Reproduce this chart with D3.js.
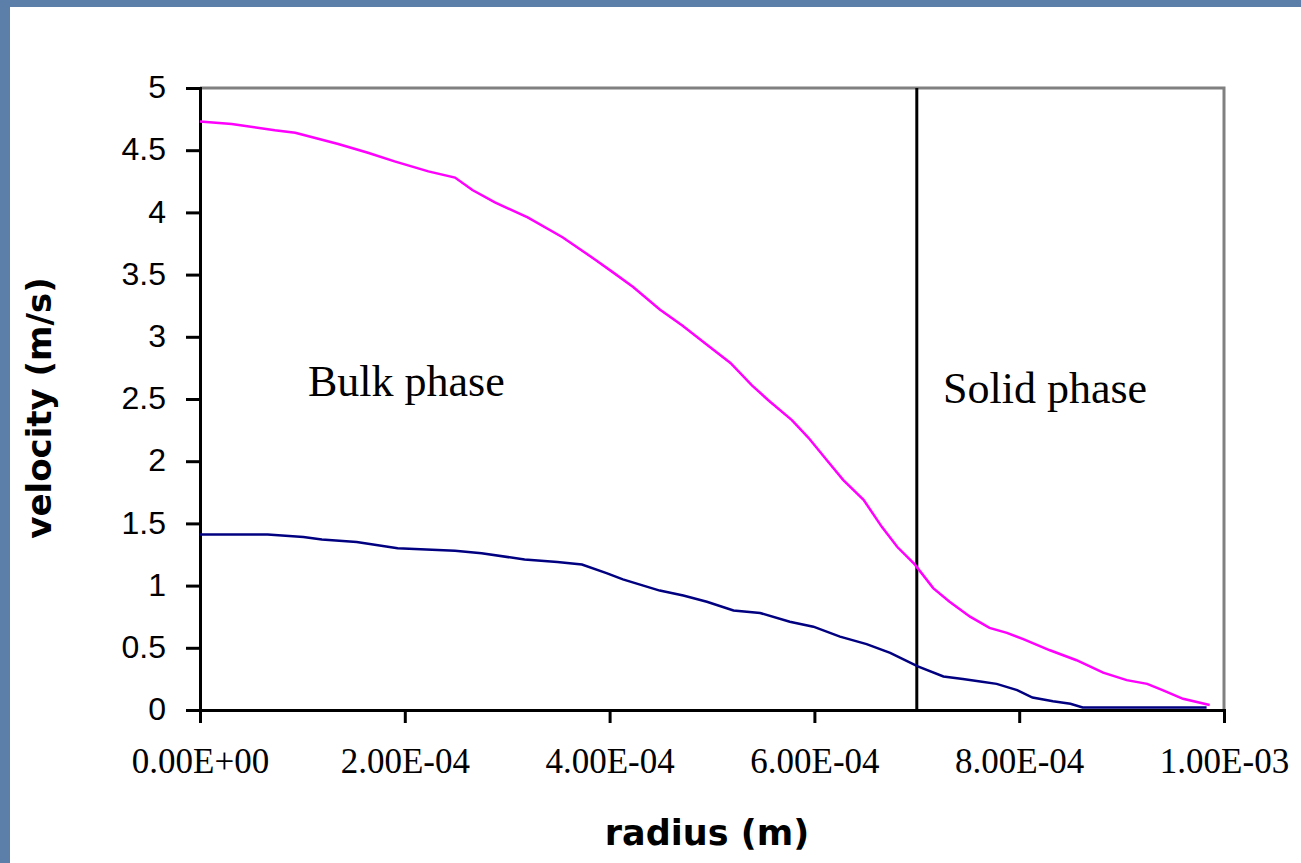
<!DOCTYPE html>
<html>
<head>
<meta charset="utf-8">
<script src="https://cdn.jsdelivr.net/npm/d3@7"></script>
<style>
  html, body { margin: 0; padding: 0; background: #5b7fa8; }
  svg { display: block; }
</style>
</head>
<body>
<div class="chart"></div>
<script>
  // radius in units of 1e-4 m, velocity in m/s
  var pinkRadius = [0, 0.31, 0.73, 0.93, 1.35, 1.64, 1.90, 2.23, 2.49, 2.66, 2.88, 3.20, 3.54, 3.86, 4.03, 4.23, 4.49, 4.71, 4.96, 5.18, 5.39, 5.55, 5.78, 5.94, 6.12, 6.28, 6.48, 6.66, 6.81, 6.98, 7.16, 7.32, 7.52, 7.71, 7.88, 8.04, 8.30, 8.56, 8.82, 9.05, 9.25, 9.40, 9.60, 9.86];
  var pinkVelocity = [4.73, 4.71, 4.66, 4.64, 4.55, 4.48, 4.41, 4.33, 4.28, 4.18, 4.08, 3.96, 3.80, 3.62, 3.52, 3.40, 3.22, 3.09, 2.93, 2.79, 2.61, 2.49, 2.33, 2.19, 2.01, 1.85, 1.69, 1.47, 1.31, 1.17, 0.98, 0.87, 0.75, 0.66, 0.62, 0.57, 0.48, 0.40, 0.30, 0.24, 0.21, 0.16, 0.09, 0.04];

  var blueRadius = [0, 0.66, 1.01, 1.19, 1.53, 1.93, 2.49, 2.75, 3.17, 3.49, 3.73, 3.97, 4.13, 4.33, 4.49, 4.72, 4.95, 5.21, 5.47, 5.76, 5.99, 6.25, 6.51, 6.74, 7.01, 7.26, 7.45, 7.62, 7.78, 7.98, 8.13, 8.33, 8.50, 8.62, 9.83];
  var blueVelocity = [1.41, 1.41, 1.39, 1.37, 1.35, 1.30, 1.28, 1.26, 1.21, 1.19, 1.17, 1.10, 1.05, 1.00, 0.96, 0.92, 0.87, 0.80, 0.78, 0.71, 0.67, 0.59, 0.53, 0.46, 0.35, 0.27, 0.25, 0.23, 0.21, 0.16, 0.10, 0.07, 0.05, 0.02, 0.02];

  var xTickValues = [0, 2e-4, 4e-4, 6e-4, 8e-4, 1e-3];
  var xTickLabels = ["0.00E+00", "2.00E-04", "4.00E-04", "6.00E-04", "8.00E-04", "1.00E-03"];
  var yTickValues = [0, 0.5, 1, 1.5, 2, 2.5, 3, 3.5, 4, 4.5, 5];
  var yTickLabels = ["0", "0.5", "1", "1.5", "2", "2.5", "3", "3.5", "4", "4.5", "5"];

  var phaseBoundary = 7e-4;

  var W = 1301, H = 863;
  var plotLeft = 200, plotRight = 1224, plotTop = 88, plotBottom = 710;

  var svg = d3.select(".chart").append("svg")
    .attr("width", W).attr("height", H);

  // blue slide frame + white card
  svg.append("rect").attr("width", W).attr("height", H).attr("fill", "#5b7fa8");
  svg.append("rect").attr("x", 10).attr("y", 7).attr("width", W - 10).attr("height", H - 7).attr("fill", "#ffffff");

  var x = d3.scaleLinear().domain([0, 1e-3]).range([plotLeft, plotRight]);
  var y = d3.scaleLinear().domain([0, 5]).range([plotBottom, plotTop]);

  // grey top/right frame
  svg.append("path")
    .attr("d", "M" + plotLeft + "," + plotTop + "H" + plotRight + "V" + plotBottom)
    .attr("fill", "none").attr("stroke", "#808080").attr("stroke-width", 3);

  // y axis
  var yAxis = svg.append("g")
    .attr("transform", "translate(" + plotLeft + ",0)")
    .call(d3.axisLeft(y).tickValues(yTickValues).tickSize(14).tickPadding(20)
      .tickFormat(function(d, i) { return yTickLabels[i]; }));
  yAxis.select(".domain").attr("stroke", "#000").attr("stroke-width", 3);
  yAxis.selectAll(".tick line").attr("stroke", "#000").attr("stroke-width", 3);
  yAxis.selectAll(".tick text")
    .attr("fill", "#000")
    .style("font-family", "'Liberation Sans', Arial, sans-serif")
    .style("font-size", "32px")
    .attr("dy", "0.3em");

  // x axis
  var xAxis = svg.append("g")
    .attr("transform", "translate(0," + plotBottom + ")")
    .call(d3.axisBottom(x).tickValues(xTickValues).tickSize(13).tickPadding(25)
      .tickFormat(function(d, i) { return xTickLabels[i]; }));
  xAxis.select(".domain").attr("stroke", "#000").attr("stroke-width", 3);
  xAxis.selectAll(".tick line").attr("stroke", "#000").attr("stroke-width", 3);
  xAxis.selectAll(".tick text")
    .attr("fill", "#000")
    .style("font-family", "'Liberation Serif', 'Times New Roman', serif")
    .style("font-size", "35px");

  // phase boundary
  svg.append("line")
    .attr("x1", x(phaseBoundary)).attr("x2", x(phaseBoundary))
    .attr("y1", y(5)).attr("y2", y(0))
    .attr("stroke", "#000").attr("stroke-width", 3);

  var line = d3.line()
    .x(function(d) { return x(d[0] * 1e-4); })
    .y(function(d) { return y(d[1]); });

  svg.append("path")
    .datum(d3.zip(blueRadius, blueVelocity))
    .attr("d", line)
    .attr("fill", "none").attr("stroke", "#000080").attr("stroke-width", 2.5);

  svg.append("path")
    .datum(d3.zip(pinkRadius, pinkVelocity))
    .attr("d", line)
    .attr("fill", "none").attr("stroke", "#ff00ff").attr("stroke-width", 2.5);

  // phase labels
  svg.append("text")
    .attr("x", 308).attr("y", 396)
    .style("font-family", "'Liberation Serif', 'Times New Roman', serif")
    .style("font-size", "44px")
    .text("Bulk phase");
  svg.append("text")
    .attr("x", 943).attr("y", 403)
    .style("font-family", "'Liberation Serif', 'Times New Roman', serif")
    .style("font-size", "44px")
    .text("Solid phase");

  // axis titles
  svg.append("text")
    .attr("transform", "translate(51,408) rotate(-90)")
    .attr("text-anchor", "middle")
    .style("font-family", "'DejaVu Sans', Verdana, sans-serif")
    .style("font-weight", "bold")
    .style("font-size", "34px")
    .text("velocity (m/s)");
  svg.append("text")
    .attr("x", 707).attr("y", 845)
    .attr("text-anchor", "middle")
    .style("font-family", "'DejaVu Sans', Verdana, sans-serif")
    .style("font-weight", "bold")
    .style("font-size", "35px")
    .text("radius (m)");
</script>
</body>
</html>
